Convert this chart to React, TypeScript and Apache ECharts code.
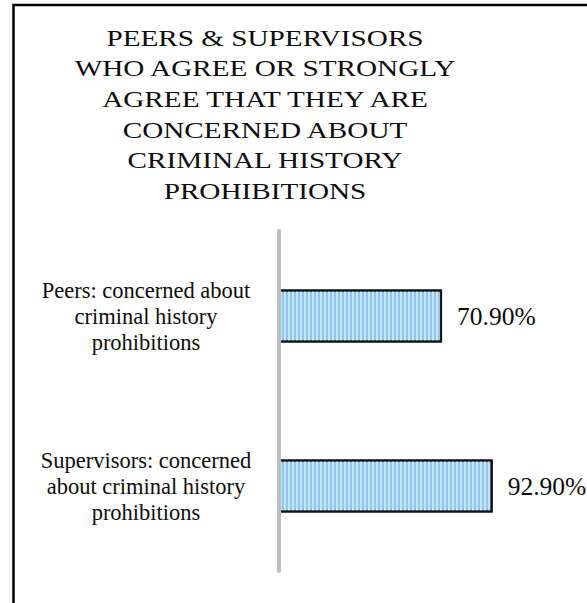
import React, { useEffect, useRef } from "react";
import * as echarts from "echarts";

// Survey groups, top to bottom
const categories: string[] = [
  "Peers: concerned about\ncriminal history\nprohibitions",
  "Supervisors: concerned\nabout criminal history\nprohibitions",
];

// Share who agree or strongly agree (%)
const agreeShare: number[] = [70.9, 92.9];

const titleLines: string[] = [
  "PEERS & SUPERVISORS",
  "WHO AGREE OR STRONGLY",
  "AGREE THAT THEY ARE",
  "CONCERNED ABOUT",
  "CRIMINAL HISTORY",
  "PROHIBITIONS",
];

const SERIF = "serif";

export default function App() {
  const ref = useRef<HTMLDivElement>(null);

  useEffect(() => {
    if (!ref.current) return;
    const chart = echarts.init(ref.current, undefined, { renderer: "svg" });

    chart.setOption({
      animation: false,
      backgroundColor: "#ffffff",
      grid: { left: 279, right: 78, top: 231, bottom: 32, containLabel: false },
      xAxis: {
        type: "value",
        min: 0,
        max: 100,
        show: false,
        splitLine: { show: false },
      },
      yAxis: {
        type: "category",
        inverse: true,
        data: categories,
        z: 5,
        axisLine: { show: true, lineStyle: { color: "#bfbfbf", width: 4 } },
        axisTick: { show: false },
        splitLine: { show: false },
        axisLabel: {
          margin: 133,
          align: "center",
          fontFamily: SERIF,
          fontSize: 22.5,
          lineHeight: 26,
          color: "#0d0d0d",
        },
      },
      series: [
        {
          type: "bar",
          data: agreeShare,
          barWidth: 53,
          itemStyle: {
            color: "#8fc7ed",
            borderColor: "#111111",
            borderWidth: 2,
            decal: {
              symbol: "rect",
              symbolSize: 1,
              dashArrayX: [2, 2],
              dashArrayY: [6, 0],
              rotation: 0,
              color: "rgba(200, 229, 249, 0.9)",
            },
          },
          label: {
            show: true,
            position: "right",
            distance: 15,
            fontFamily: SERIF,
            fontSize: 25.5,
            color: "#0d0d0d",
            formatter: (p: any) => `${Number(p.value).toFixed(2)}%`,
          },
        },
      ],
      graphic: [
        {
          type: "rect",
          shape: { x: 13.5, y: 5, width: 700, height: 700 },
          style: { fill: "none", stroke: "#000000", lineWidth: 2.5 },
          silent: true,
        },
        {
          type: "text",
          x: 265,
          y: 115,
          scaleX: 1.27,
          style: {
            text: titleLines.join("\n"),
            fontFamily: SERIF,
            fontSize: 23,
            fill: "#0d0d0d",
            align: "center",
            verticalAlign: "middle",
            lineHeight: 30.7,
          },
          silent: true,
        },
      ],
    });

    return () => chart.dispose();
  }, []);

  return (
    <div
      ref={ref}
      style={{ position: "fixed", left: 0, top: 0, width: 587, height: 603 }}
    />
  );
}
